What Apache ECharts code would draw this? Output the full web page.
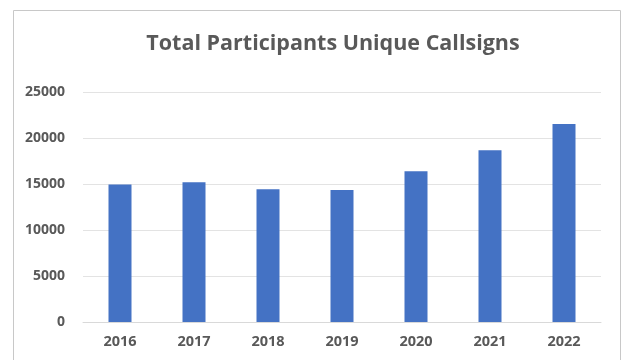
<!DOCTYPE html>
<html><head><meta charset="utf-8">
<script src="https://cdn.jsdelivr.net/npm/echarts@6/dist/echarts.min.js"></script>
<style>html,body{margin:0;padding:0;background:#fff}#c{width:624px;height:360px}</style>
</head><body><div id="c"></div>
<script>
const categories = ['2016','2017','2018','2019','2020','2021','2022'];
const participants = [14950, 15200, 14420, 14350, 16380, 18680, 21520];
const yTicks = [0, 5000, 10000, 15000, 20000, 25000];

const chart = echarts.init(document.getElementById('c'), null, {renderer:'canvas'});
chart.setOption({
  animation:false,
  backgroundColor:'#fff',
  graphic:[{type:'rect', shape:{x:13.5,y:10.5,width:607,height:360}, style:{fill:'none', stroke:'#c8c8c8', lineWidth:1}, silent:true, z:-1}],
  title:{
    text:'Total Participants Unique Callsigns',
    left:328, top:28, textAlign:'center',
    textStyle:{fontFamily:'Open Sans', fontWeight:'bold', fontSize:21.5, color:'#595959'}
  },
  grid:{left:83, right:23, top:92, bottom:38},
  xAxis:{
    type:'category', data:categories,
    axisLine:{lineStyle:{color:'#d9d9d9'}}, axisTick:{show:false},
    axisLabel:{fontFamily:'Open Sans', fontWeight:'bold', fontSize:14.5, color:'#595959', margin:12}
  },
  yAxis:{
    type:'value', min:yTicks[0], max:yTicks[yTicks.length-1], interval:5000,
    axisLine:{show:false}, axisTick:{show:false},
    splitLine:{lineStyle:{color:'#e3e3e3'}},
    axisLabel:{fontFamily:'Open Sans', fontWeight:'bold', fontSize:14, color:'#595959', margin:18,
      formatter:function(v){return String(v);}}
  },
  series:[{type:'bar', data:participants, barWidth:23, itemStyle:{color:'#4472C4'}}]
});
</script></body></html>
